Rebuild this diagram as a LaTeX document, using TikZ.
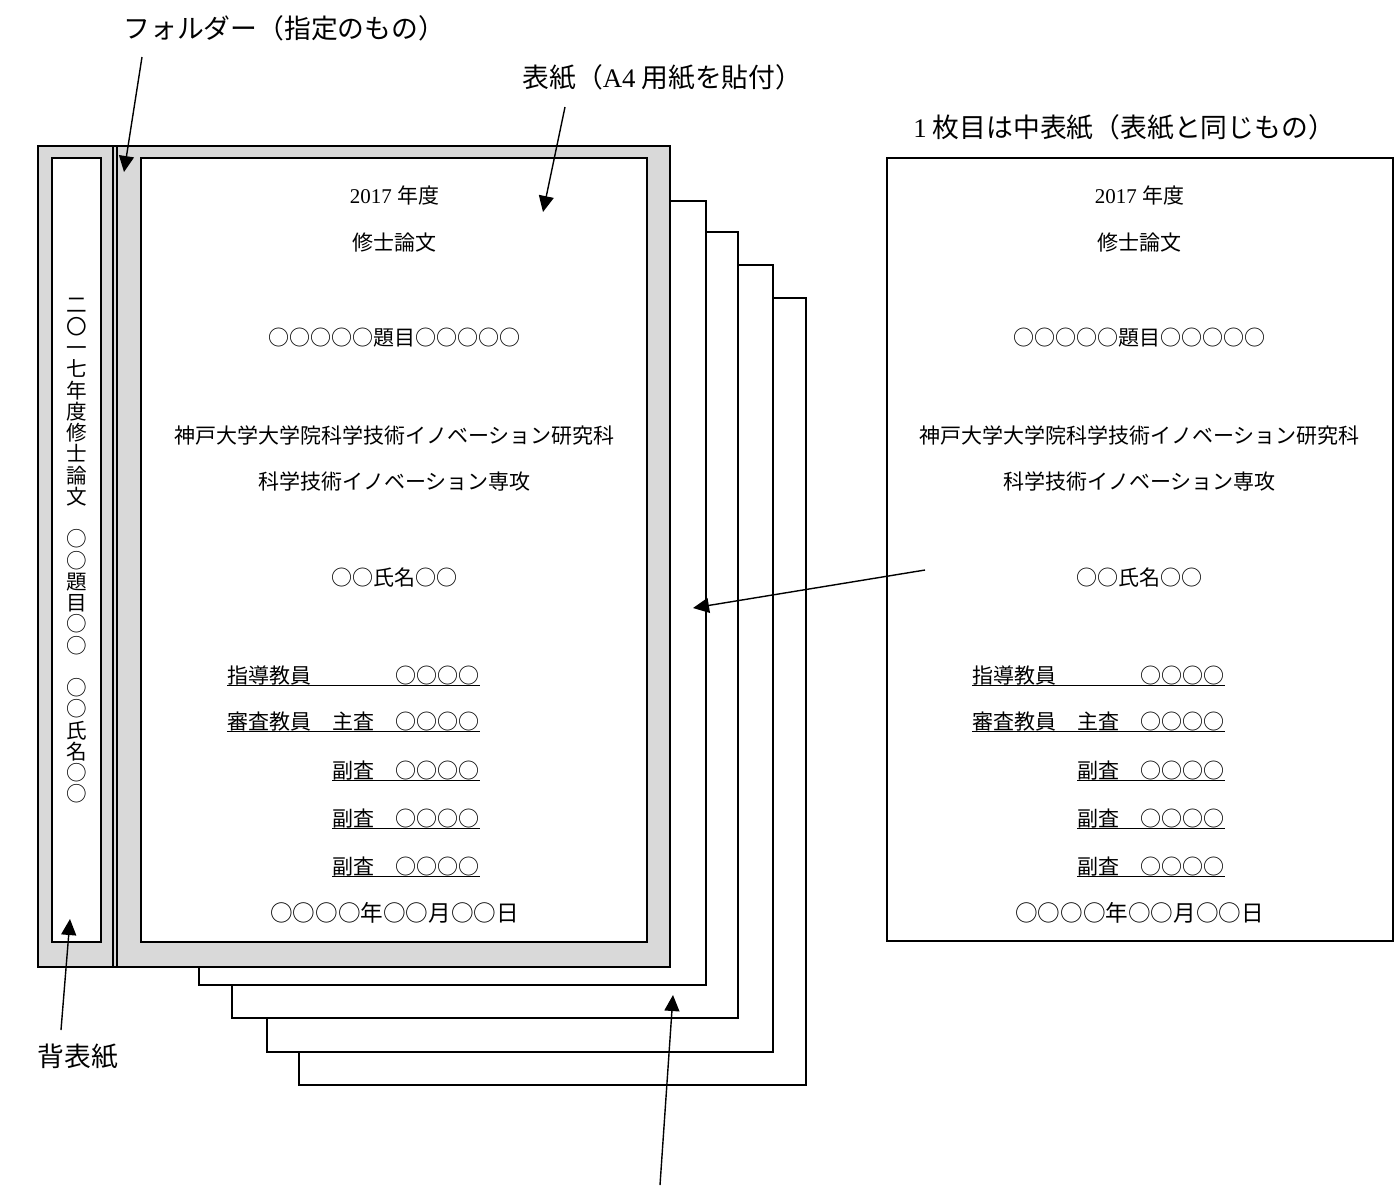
\documentclass[tikz,border=0pt]{standalone}
\usepackage{fontspec}
\setmainfont{Liberation Serif}
\newfontfamily\cjk{Noto Sans CJK JP}
\usetikzlibrary{arrows.meta}
\tikzset{
  folderbox/.style={draw=black, fill=black!15, line width=1.3pt},
  divider/.style={draw=black, line width=1.1pt},
  innerbox/.style={draw=black, fill=white, line width=1.4pt},
  sheetbox/.style={draw=black, fill=white, line width=1.4pt},
  pagebox/.style={draw=black, fill=white, line width=1.1pt},
  txt/.style={font=\cjk\fontsize{10.5pt}{12pt}\selectfont, inner sep=0pt},
  datetxt/.style={font=\cjk\fontsize{11.3pt}{12pt}\selectfont, inner sep=0pt},
  lbl/.style={font=\cjk\fontsize{13.4pt}{16pt}\selectfont, inner sep=0pt},
  row/.style={txt, anchor=base west},
  uline/.style={line width=0.7pt},
  arr/.style={-{Triangle[length=8pt,width=7.5pt]}, line width=0.7pt},
}
\newcommand{\coverpage}[2]{%
  % #1 = prefix, #2 = x offset
  \begin{scope}[xshift=#2*0.5pt]
    \node[txt] (#1y) at (394.5,195) {\fontsize{10.5pt}{12pt}\rmfamily 2017 {\cjk 年度}};
    \node[txt] (#1k) at (394.5,243) {修士論文};
    \node[txt] (#1t) at (394.5,338) {○○○○○題目○○○○○};
    \node[txt] (#1s) at (394.5,435) {神戸大学大学院科学技術イノベーション研究科};
    \node[txt] (#1m) at (394.5,481) {科学技術イノベーション専攻};
    \node[txt] (#1n) at (394.5,578) {○○氏名○○};
    \node[row] (#1ra) at (227,683) {指導教員　　　　○○○○};
    \node[row] (#1rb) at (227,729) {審査教員　主査　○○○○};
    \node[row] (#1rc) at (332,778) {副査　○○○○};
    \node[row] (#1rd) at (332,826) {副査　○○○○};
    \node[row] (#1re) at (332,874) {副査　○○○○};
    \foreach \r in {ra,rb,rc,rd,re}{
      \draw[uline] ([yshift=-1.2pt]#1\r.base west) -- ([yshift=-1.2pt]#1\r.base east);
    }
    \node[datetxt] (#1d) at (394.5,913) {○○○○年○○月○○日};
  \end{scope}
}
\begin{document}
\begin{tikzpicture}[x=0.5pt,y=-0.5pt]
\useasboundingbox (0,0) rectangle (1400,1185);
% sheets behind
\draw[sheetbox] (299,298) rectangle (806,1085);
\draw[sheetbox] (267,265) rectangle (773,1052);
\draw[sheetbox] (232,232) rectangle (738,1018);
\draw[sheetbox] (199,201) rectangle (706,985);
% folder
\draw[folderbox] (38,146) rectangle (670,967);
\coordinate (d1t) at (113,146); \coordinate (d1b) at (113,967);
\coordinate (d2t) at (117,146); \coordinate (d2b) at (117,967);
\draw[divider] (d1t) -- (d1b);
\draw[divider] (d2t) -- (d2b);
\draw[innerbox] (52,158) rectangle (101,942);
\draw[innerbox] (141,158) rectangle (647,942);
% spine text
\node[font=\cjk\fontsize{10.3pt}{10.63pt}\selectfont, align=center, inner sep=0pt] (spine) at (76.5,551)
  {二\\〇\\一\\七\\年\\度\\修\\士\\論\\文\\　\\○\\○\\題\\目\\○\\○\\　\\○\\○\\氏\\名\\○\\○};
% cover page text
\coverpage{c}{0}
% right page
\draw[pagebox] (887,158) rectangle (1393,941);
\coverpage{p}{745}
% labels
\node[lbl, anchor=west] (lfolder) at (123,28) {フォルダー（指定のもの）};
\node[lbl, anchor=west] (lcover) at (522,77) {表紙（{\rmfamily A4} 用紙を貼付）};
\node[lbl, anchor=west] (linner) at (913,127) {{\rmfamily 1} 枚目は中表紙（表紙と同じもの）};
\node[lbl, anchor=west] (lspine) at (37,1057) {背表紙};
% arrow endpoints
\coordinate (af0) at (142,57);   \coordinate (af1) at (124,172);
\coordinate (ac0) at (565,107);  \coordinate (ac1) at (543,212);
\coordinate (as0) at (61,1030);  \coordinate (as1) at (70,919);
\coordinate (ai0) at (925,570);  \coordinate (ai1) at (693,608);
\coordinate (ab0) at (660,1185); \coordinate (ab1) at (673,995);
\draw[arr] (af0) -- (af1);
\draw[arr] (ac0) -- (ac1);
\draw[arr] (as0) -- (as1);
\draw[arr] (ai0) -- (ai1);
\draw[arr] (ab0) -- (ab1);
\end{tikzpicture}
\end{document}
